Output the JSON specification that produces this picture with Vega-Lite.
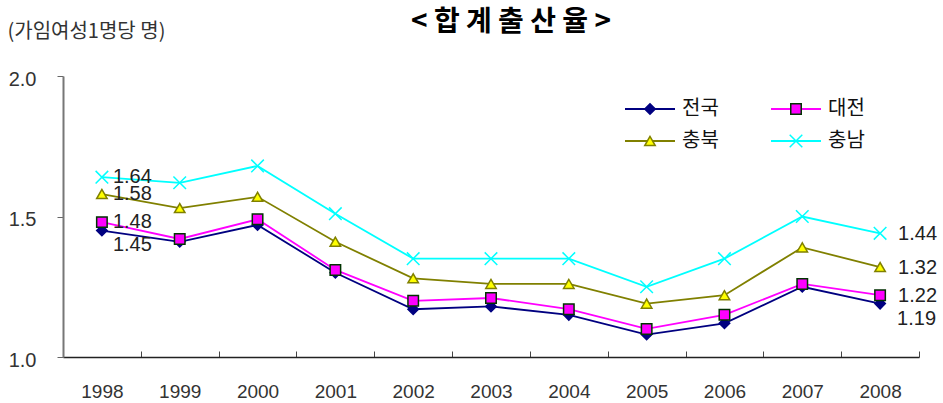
{
  "$schema": "https://vega.github.io/schema/vega-lite/v6.json",
  "width": 856,
  "height": 281,
  "autosize": {"type": "none"},
  "padding": {"left": 63, "top": 76, "right": 24, "bottom": 46},
  "background": "white",
  "config": {"view": {"stroke": null}, "font": "Liberation Sans"},
  "title": {
    "text": "< 합 계 출 산 율 >",
    "font": "Noto Sans CJK KR",
    "fontSize": 28,
    "fontWeight": "bold",
    "color": "#000000",
    "anchor": "middle",
    "frame": "group",
    "dx": 20,
    "dy": 20
  },
  "data": {
    "values": [
      {"year": 1998, "series": "전국", "value": 1.45},
      {"year": 1999, "series": "전국", "value": 1.41},
      {"year": 2000, "series": "전국", "value": 1.47},
      {"year": 2001, "series": "전국", "value": 1.30},
      {"year": 2002, "series": "전국", "value": 1.17},
      {"year": 2003, "series": "전국", "value": 1.18},
      {"year": 2004, "series": "전국", "value": 1.15},
      {"year": 2005, "series": "전국", "value": 1.08},
      {"year": 2006, "series": "전국", "value": 1.12},
      {"year": 2007, "series": "전국", "value": 1.25},
      {"year": 2008, "series": "전국", "value": 1.19},
      {"year": 1998, "series": "대전", "value": 1.48},
      {"year": 1999, "series": "대전", "value": 1.42},
      {"year": 2000, "series": "대전", "value": 1.49},
      {"year": 2001, "series": "대전", "value": 1.31},
      {"year": 2002, "series": "대전", "value": 1.20},
      {"year": 2003, "series": "대전", "value": 1.21},
      {"year": 2004, "series": "대전", "value": 1.17},
      {"year": 2005, "series": "대전", "value": 1.10},
      {"year": 2006, "series": "대전", "value": 1.15},
      {"year": 2007, "series": "대전", "value": 1.26},
      {"year": 2008, "series": "대전", "value": 1.22},
      {"year": 1998, "series": "충북", "value": 1.58},
      {"year": 1999, "series": "충북", "value": 1.53},
      {"year": 2000, "series": "충북", "value": 1.57},
      {"year": 2001, "series": "충북", "value": 1.41},
      {"year": 2002, "series": "충북", "value": 1.28},
      {"year": 2003, "series": "충북", "value": 1.26},
      {"year": 2004, "series": "충북", "value": 1.26},
      {"year": 2005, "series": "충북", "value": 1.19},
      {"year": 2006, "series": "충북", "value": 1.22},
      {"year": 2007, "series": "충북", "value": 1.39},
      {"year": 2008, "series": "충북", "value": 1.32},
      {"year": 1998, "series": "충남", "value": 1.64},
      {"year": 1999, "series": "충남", "value": 1.62},
      {"year": 2000, "series": "충남", "value": 1.68},
      {"year": 2001, "series": "충남", "value": 1.51},
      {"year": 2002, "series": "충남", "value": 1.35},
      {"year": 2003, "series": "충남", "value": 1.35},
      {"year": 2004, "series": "충남", "value": 1.35},
      {"year": 2005, "series": "충남", "value": 1.25},
      {"year": 2006, "series": "충남", "value": 1.35},
      {"year": 2007, "series": "충남", "value": 1.50},
      {"year": 2008, "series": "충남", "value": 1.44}
    ]
  },
  "encoding": {
    "x": {
      "field": "year",
      "type": "ordinal",
      "bandPosition": 0.5,
      "scale": {"type": "band", "paddingInner": 0, "paddingOuter": 0},
      "axis": {
        "title": null,
        "labelAngle": 0,
        "tickBand": "extent",
        "tickSize": -6,
        "tickColor": "#444444",
        "labelPadding": 31,
        "labelFont": "Liberation Sans",
        "labelFontSize": 19,
        "labelColor": "#333333",
        "domainColor": "#222222",
        "domainWidth": 1.5,
        "grid": false
      }
    },
    "y": {
      "field": "value",
      "type": "quantitative",
      "scale": {"domain": [1, 2], "nice": false, "zero": false},
      "axis": {
        "title": "(가임여성1명당 명)",
        "titleAngle": 0,
        "titleAlign": "left",
        "titleBaseline": "middle",
        "titleX": -56,
        "titleY": -45,
        "titleFont": "Noto Sans CJK KR",
        "titleFontSize": 20,
        "titleFontWeight": "normal",
        "titleColor": "#333333",
        "values": [1, 1.5, 2],
        "format": ".1f",
        "labelFont": "Liberation Sans",
        "labelFontSize": 20,
        "labelColor": "#333333",
        "labelPadding": 21,
        "labelOffset": 3,
        "labelFlush": false,
        "tickSize": 6,
        "tickColor": "#666666",
        "domainColor": "#777777",
        "domainWidth": 2,
        "grid": false
      }
    }
  },
  "layer": [
    {
      "mark": {"type": "line", "strokeWidth": 1.8},
      "encoding": {
        "color": {
          "field": "series",
          "type": "nominal",
          "sort": ["전국", "대전", "충북", "충남"],
          "scale": {"range": ["#000080", "#FF00FF", "#808000", "#00FFFF"]},
          "legend": {
            "orient": "none",
            "direction": "horizontal",
            "legendX": 557,
            "legendY": 23,
            "columns": 2,
            "title": null,
            "padding": 0,
            "symbolType": "M-5,0H5",
            "symbolSize": 100,
            "symbolStrokeWidth": 1.8,
            "symbolOffset": 20,
            "labelOffset": 22,
            "labelFont": "Noto Sans CJK KR",
            "labelFontSize": 20,
            "labelOpacity": 0,
            "columnPadding": 47,
            "rowPadding": 12
          }
        }
      }
    },
    {
      "mark": {"type": "point", "filled": true, "size": 110, "strokeWidth": 1.5, "opacity": 1},
      "encoding": {
        "fill": {
          "field": "series",
          "type": "nominal",
          "scale": {"domain": ["전국", "대전", "충북", "충남"], "range": ["#000080", "#FF00FF", "#FFFF00", "#00FFFF"]},
          "legend": {
            "orient": "none",
            "direction": "horizontal",
            "legendX": 557,
            "legendY": 23,
            "columns": 2,
            "title": null,
            "padding": 0,
            "symbolStrokeWidth": 1.5,
            "symbolSize": 110,
            "symbolOffset": 20,
            "labelOffset": 22,
            "labelFont": "Noto Sans CJK KR",
            "labelFontSize": 20,
            "labelColor": "#111111",
            "columnPadding": 47,
            "rowPadding": 12
          }
        },
        "stroke": {
          "field": "series",
          "type": "nominal",
          "scale": {"domain": ["전국", "대전", "충북", "충남"], "range": ["#000080", "#003300", "#808000", "#00FFFF"]}
        },
        "shape": {
          "field": "series",
          "type": "nominal",
          "scale": {"domain": ["전국", "대전", "충북", "충남"], "range": ["diamond", "square", "triangle-up", "M-1.2,-1.2L1.2,1.2M-1.2,1.2L1.2,-1.2"]}
        }
      }
    },
    {
      "transform": [{"filter": {"and": [{"field": "year", "equal": 1998}, {"field": "series", "oneOf": ["대전", "충북", "충남"]}]}}],
      "mark": {"type": "text", "align": "left", "baseline": "middle", "dx": 11, "dy": 0, "font": "Liberation Sans", "fontSize": 20, "color": "#222222"},
      "encoding": {"text": {"field": "value", "type": "quantitative", "format": ".2f"}}
    },
    {
      "transform": [{"filter": {"and": [{"field": "year", "equal": 1998}, {"field": "series", "equal": "전국"}]}}],
      "mark": {"type": "text", "align": "left", "baseline": "middle", "dx": 11, "dy": 14, "font": "Liberation Sans", "fontSize": 20, "color": "#222222"},
      "encoding": {"text": {"field": "value", "type": "quantitative", "format": ".2f"}}
    },
    {
      "transform": [{"filter": {"and": [{"field": "year", "equal": 2008}, {"field": "series", "oneOf": ["대전", "충북", "충남"]}]}}],
      "mark": {"type": "text", "align": "left", "baseline": "middle", "dx": 18, "dy": 1, "font": "Liberation Sans", "fontSize": 20, "color": "#222222"},
      "encoding": {"text": {"field": "value", "type": "quantitative", "format": ".2f"}}
    },
    {
      "transform": [{"filter": {"and": [{"field": "year", "equal": 2008}, {"field": "series", "equal": "전국"}]}}],
      "mark": {"type": "text", "align": "left", "baseline": "middle", "dx": 17, "dy": 15, "font": "Liberation Sans", "fontSize": 20, "color": "#222222"},
      "encoding": {"text": {"field": "value", "type": "quantitative", "format": ".2f"}}
    }
  ]
}
